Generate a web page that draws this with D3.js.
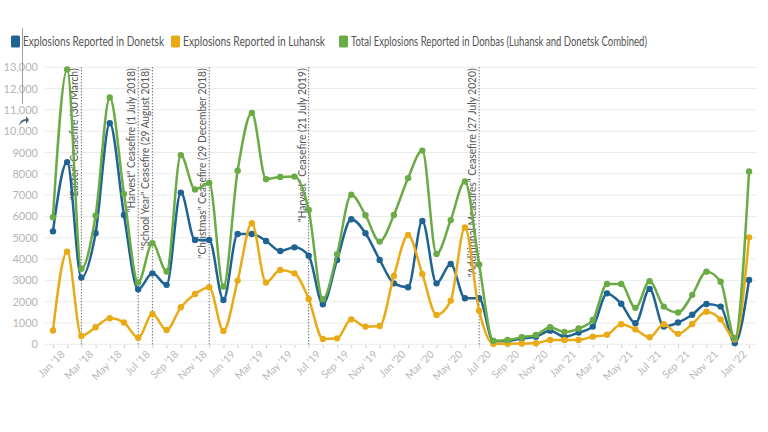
<!DOCTYPE html>
<html>
<head>
<meta charset="utf-8">
<script src="https://cdn.jsdelivr.net/npm/d3@7"></script>
<style>
  html, body { margin: 0; padding: 0; background: #fff; }
  svg { display: block; font-family: Lato, "Open Sans", sans-serif; }
</style>
</head>
<body>
<svg id="chart" width="768" height="432"></svg>
<script>
// ---- Data ----
const months = ["Jan '18","Feb '18","Mar '18","Apr '18","May '18","Jun '18","Jul '18","Aug '18","Sep '18","Oct '18","Nov '18","Dec '18",
  "Jan '19","Feb '19","Mar '19","Apr '19","May '19","Jun '19","Jul '19","Aug '19","Sep '19","Oct '19","Nov '19","Dec '19",
  "Jan '20","Feb '20","Mar '20","Apr '20","May '20","Jun '20","Jul '20","Aug '20","Sep '20","Oct '20","Nov '20","Dec '20",
  "Jan '21","Feb '21","Mar '21","Apr '21","May '21","Jun '21","Jul '21","Aug '21","Sep '21","Oct '21","Nov '21","Dec '21",
  "Jan '22","Feb '22"];

const donetsk = [5300, 8550, 3130, 5210, 10375, 6070, 2580, 3330, 2790, 7120, 4900, 4900,
  2080, 5180, 5180, 4850, 4380, 4550, 4160, 1880, 3960, 5870, 5210, 3960,
  2860, 2680, 5790, 2860, 3770, 2160, 2160, 140, 160, 270, 360, 640,
  360, 550, 830, 2390, 1900, 990, 2600, 830, 1020, 1390, 1890, 1770,
  60, 3020];

const luhansk = [650, 4350, 390, 800, 1220, 1020, 310, 1420, 670, 1740, 2360, 2680,
  630, 2990, 5680, 2900, 3490, 3330, 2130, 250, 280, 1170, 830, 860,
  3210, 5130, 3300, 1380, 2050, 5480, 1580, 20, 30, 40, 50, 200,
  200, 200, 360, 450, 940, 700, 330, 940, 490, 950, 1530, 1170,
  240, 5020];

const total = [5960, 12900, 3550, 6040, 11580, 7060, 2900, 4740, 3420, 8880, 7270, 7570,
  2710, 8150, 10860, 7750, 7850, 7870, 6300, 2120, 4230, 7020, 6060, 4820,
  6070, 7800, 9090, 4240, 5830, 7640, 3750, 170, 200, 330, 440, 800,
  580, 740, 1140, 2830, 2830, 1710, 2960, 1770, 1490, 2320, 3410, 2940,
  300, 8110];

const yTicks = [0,1000,2000,3000,4000,5000,6000,7000,8000,9000,10000,11000,12000,13000];

const seriesNames = ["Explosions Reported in Donetsk", "Explosions Reported in Luhansk",
  "Total Explosions Reported in Donbas (Luhansk and Donetsk Combined)"];
const seriesColors = ["#1f6393", "#e8ab16", "#6aab45"];

const eventMonth = ["Mar '18", "Jul '18", "Aug '18", "Dec '18", "Jul '19", "Jul '20"];
const eventLabel = ["\"Easter\" Ceasefire (30 March)", "\"Harvest\" Ceasefire (1 July 2018)",
  "\"School Year\" Ceasefire (29 August 2018)", "\"Christmas\" Ceasefire (29 December 2018)",
  "\"Harvest\" Ceasefire (21 July 2019)", "\"Additional Measures\" Ceasefire (27 July 2020)"];

// ---- Layout ----
const svg = d3.select("#chart");
const x = d3.scaleLinear().domain([-0.56, months.length - 1 + 0.56]).range([45, 757]);
const y = d3.scaleLinear().domain([0, 13000]).range([344.3, 67.3]);

// fit text to a measured width (keeps the glyph height)
function fit(sel, w) {
  const node = sel.node();
  const len = node.getComputedTextLength();
  if (len > w) sel.attr("textLength", w).attr("lengthAdjust", "spacingAndGlyphs");
}

// gridlines
svg.append("g").selectAll("line").data(yTicks).join("line")
  .attr("x1", 45).attr("x2", 757)
  .attr("y1", d => y(d)).attr("y2", d => y(d))
  .attr("stroke", "#ebebeb").attr("stroke-width", 1);

// y axis labels
const fmt = d => d >= 10000 ? d3.format(",")(d) : String(d);
const yAxis = d3.axisLeft(y).tickValues(yTicks).tickFormat(fmt).tickSize(0).tickPadding(0);
const yg = svg.append("g").attr("transform", "translate(38,0)").call(yAxis);
yg.select(".domain").remove();
yg.selectAll("text").attr("fill", "#b4b4b4").attr("font-size", 11)
  .attr("font-family", "Lato, sans-serif");

// x axis
const xAxis = d3.axisBottom(x).tickValues(d3.range(months.length))
  .tickFormat(i => i % 2 === 0 ? months[i] : "").tickSize(3).tickPadding(2);
const xg = svg.append("g").attr("transform", "translate(0,345)").call(xAxis);
xg.select(".domain").remove();
xg.selectAll(".tick line").attr("stroke", "#d0d0d0");
xg.selectAll("text").attr("fill", "#b8b8b8").attr("font-size", 10.5)
  .attr("font-family", "Lato, sans-serif")
  .attr("text-anchor", "end")
  .attr("transform", "translate(4,2) rotate(-45)")
  .attr("dy", "0.6em");

// event lines
const eventLen = [132, 144, 182, 190, 154, 209];
const ev = svg.append("g");
eventMonth.forEach((m, k) => {
  const i = months.indexOf(m);
  ev.append("line")
    .attr("x1", x(i)).attr("x2", x(i))
    .attr("y1", y(13000)).attr("y2", y(0))
    .attr("stroke", "#333").attr("stroke-width", 1).attr("stroke-dasharray", "1,2");
  const t = ev.append("text")
    .attr("transform", `translate(${x(i) - 3},${y(13000) + 1}) rotate(-90)`)
    .attr("text-anchor", "end")
    .attr("fill", "#555").attr("font-size", 11.5)
    .text(eventLabel[k]);
  fit(t, eventLen[k]);
});

// lines
const line = d3.line().x((d, i) => x(i)).y(d => y(d)).curve(d3.curveMonotoneX);
const allSeries = [donetsk, luhansk, total];
[0, 1, 2].forEach(s => {
  const g = svg.append("g");
  g.append("path").datum(allSeries[s]).attr("d", line)
    .attr("fill", "none").attr("stroke", seriesColors[s]).attr("stroke-width", 2.5);
  g.selectAll("circle").data(allSeries[s]).join("circle")
    .attr("cx", (d, i) => x(i)).attr("cy", d => y(d)).attr("r", 3.2)
    .attr("fill", seriesColors[s]);
});

// legend
const legX = [11, 171, 339];
const legLen = [141, 142, 296];
const leg = svg.append("g");
seriesNames.forEach((n, s) => {
  leg.append("rect").attr("x", legX[s]).attr("y", 35.5).attr("width", 9).attr("height", 12)
    .attr("rx", 1.5).attr("fill", seriesColors[s]);
  const t = leg.append("text").attr("x", legX[s] + 12).attr("y", 46)
    .attr("fill", "#555").attr("font-size", 12.5).text(n);
  fit(t, legLen[s]);
});

// UI artifacts (cursor line & arrow)
svg.append("line").attr("x1", 22.5).attr("x2", 22.5).attr("y1", 28).attr("y2", 104)
  .attr("stroke", "#9aa0a6").attr("stroke-width", 1);
svg.append("path").attr("d", "M19,126 Q20,119 26,119 L26,116 L29,120 L26,124 L26,121 Q22,121 19,126 Z")
  .attr("fill", "#4a6478");
</script>
</body>
</html>
